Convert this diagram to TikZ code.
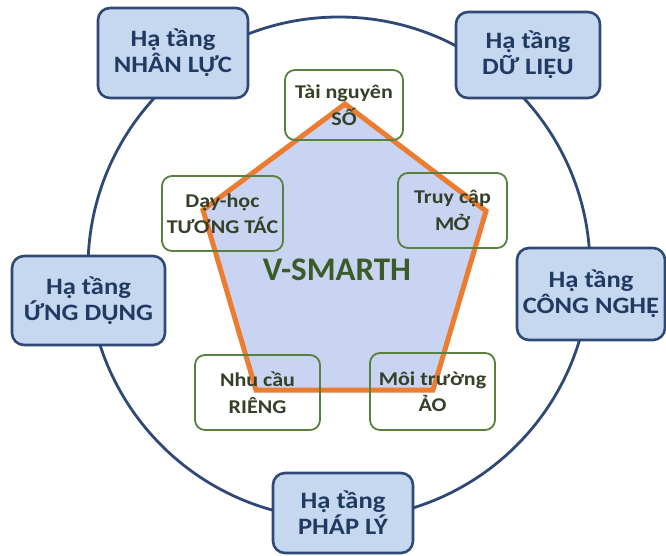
\documentclass[tikz,border=0pt]{standalone}
\usepackage{fontspec}
\setmainfont{Carlito}
\newfontfamily\widefont[FakeStretch=1.13]{Carlito}
\definecolor{ringblue}{RGB}{47,72,118}
\definecolor{infrafill}{RGB}{197,216,240}
\definecolor{infratext}{RGB}{33,58,98}
\definecolor{leafgreen}{RGB}{88,128,62}
\definecolor{leaftext}{RGB}{52,64,40}
\definecolor{penta}{RGB}{236,124,48}
\definecolor{pentafill}{RGB}{200,212,242}
\definecolor{coretext}{RGB}{58,92,40}
\begin{document}
\begin{tikzpicture}[x=1pt,y=-1pt,
  infra/.style={draw=ringblue, line width=2.6pt, fill=infrafill,
    rounded corners=12pt, text=infratext, align=center, inner sep=0pt,
    font=\widefont\bfseries\fontsize{23.5}{26}\selectfont},
  leaf/.style={draw=leafgreen, line width=1.8pt, rounded corners=10pt,
    text=leaftext, align=center, inner sep=0pt,
    font=\widefont\bfseries\fontsize{19.5}{26.5}\selectfont},
  ring/.style={draw=ringblue, line width=2.8pt},
  pentagon/.style={draw=penta, line width=5pt, fill=pentafill, line join=miter}
]
\useasboundingbox[fill=white] (0,0) rectangle (666,555);

% outer ring
\coordinate (hub) at (339,268);
\draw[ring] (hub) circle[radius=251];

% infrastructure boxes on the ring
\node[infra, minimum width=150, minimum height=90] (nl) at (173,53) {Hạ tầng\\NHÂN LỰC};
\node[infra, minimum width=144, minimum height=86] (dl) at (528,55) {Hạ tầng\\DỮ LIỆU};
\node[infra, minimum width=153, minimum height=89] (ud) at (88.5,300.5) {Hạ tầng\\ỨNG DỤNG};
\node[infra, minimum width=148, minimum height=92] (cn) at (591,294) {Hạ tầng\\CÔNG NGHỆ};
\node[infra, minimum width=140, minimum height=80] (pl) at (343,513) {Hạ tầng\\PHÁP LÝ};

% central pentagon
\coordinate (pt) at (345,104);
\coordinate (pr) at (486,211);
\coordinate (pbr) at (433,390);
\coordinate (pbl) at (256,390);
\coordinate (pl5) at (203,210);
\draw[pentagon] (pt) -- (pr) -- (pbr) -- (pbl) -- (pl5) -- cycle;

\node[text=coretext, font=\bfseries\fontsize{33}{36}\selectfont] (core) at (337,270) {V-SMARTH};

% pillar boxes at the pentagon corners
\node[leaf, minimum width=118, minimum height=70] (so) at (344,105) {Tài nguyên\\SỐ};
\node[leaf, minimum width=121, minimum height=75] (tt) at (222.5,213.5) {Dạy-học\\TƯƠNG TÁC};
\node[leaf, minimum width=109, minimum height=75] (mo) at (452.5,210.5) {Truy cập\\MỞ};
\node[leaf, minimum width=125, minimum height=75] (rg) at (257.5,392.5) {Nhu cầu\\RIÊNG};
\node[leaf, minimum width=125, minimum height=77] (ao) at (432.5,391.5) {Môi trường\\ẢO};
\end{tikzpicture}
\end{document}
